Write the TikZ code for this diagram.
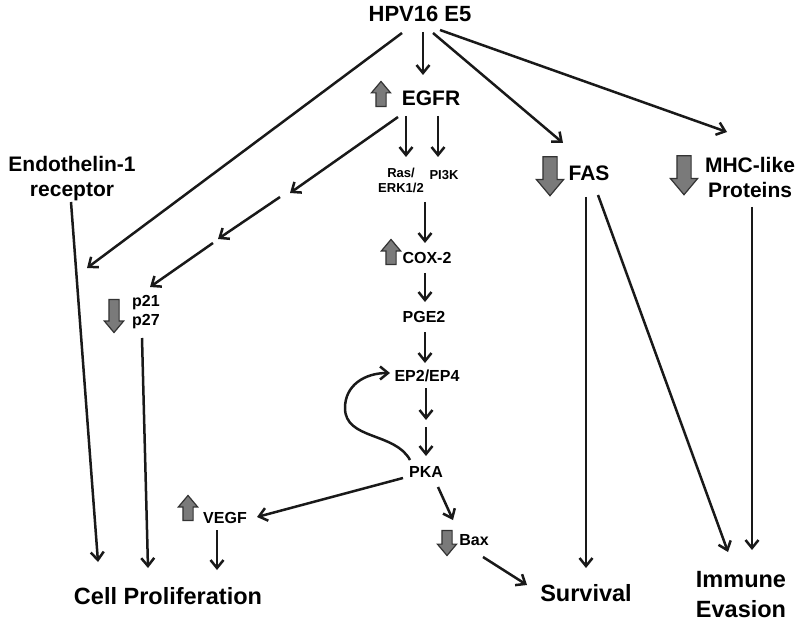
\documentclass[tikz,border=0pt]{standalone}
\usepackage{fontspec}
\setmainfont{Liberation Sans}
\usetikzlibrary{arrows.meta,calc,shapes.arrows}

\begin{document}
\begin{tikzpicture}
[
x=1pt, y=-1pt,
text-big/.style={font=\bfseries\fontsize{22}{26}\selectfont, inner sep=0pt},
text-mid/.style={font=\bfseries\fontsize{21}{25}\selectfont, inner sep=0pt, align=center},
text-out/.style={font=\bfseries\fontsize{23.5}{30}\selectfont, inner sep=0pt, align=center},
text-small/.style={font=\bfseries\fontsize{16}{19}\selectfont, inner sep=0pt, align=center},
text-tiny/.style={font=\bfseries\fontsize{13}{15}\selectfont, inner sep=0pt, align=center},
mark-a/.style={single arrow, draw=black!80, fill=black!52, line width=1.2pt, inner sep=4.5pt,
  single arrow head extend=4.5pt, single arrow head indent=0pt, single arrow tip angle=80,
  minimum width=18pt, minimum height=25pt},
up-a/.style={mark-a, shape border rotate=90},
down-a/.style={mark-a, shape border rotate=270},
down-b/.style={down-a, inner sep=6.5pt, minimum width=26pt, minimum height=39pt, single arrow head extend=6.5pt},
link-a/.style={line width=2.5pt, black!90, -{Straight Barb[length=8pt,width=13pt]}}
]
\useasboundingbox (0,0) rectangle (800,628);

% labels
\node (hpv)    [text-big  ] at (420,14)  {HPV16 E5};
\node (egfr)   [text-mid  ] at (431,98)  {EGFR};
\node (edn)    [text-mid  ] at (72,179)  {Endothelin-1\\receptor};
\node (ras)    [text-tiny ] at (401,180) {Ras/\\ERK1/2};
\node (pi3k)   [text-tiny ] at (444,175) {PI3K};
\node (fas)    [text-mid  ] at (589,173) {FAS};
\node (mhc)    [text-mid  ] at (750,177) {MHC-like\\Proteins};
\node (p21)    [text-small] at (146,312) {p21\\p27};
\node (cox)    [text-small] at (427,258) {COX-2};
\node (pge)    [text-small] at (424,317) {PGE2};
\node (ep)     [text-small] at (427,376) {EP2/EP4};
\node (pka)    [text-small] at (426,472) {PKA};
\node (vegf)   [text-small] at (225,518) {VEGF};
\node (bax)    [text-small] at (474,540) {Bax};
\node (cell)   [text-out  ] at (168,596) {Cell Proliferation};
\node (surv)   [text-out  ] at (586,593) {Survival};
\node (imm)    [text-out  ] at (741,595) {Immune\\Evasion};

% up / down marks
\node (egfr-up) [up-a  ] at (381,97)  {};
\node (cox-up)  [up-a  ] at (391,255) {};
\node (vegf-up) [up-a  ] at (188,511) {};
\node (p21-dn)  [down-a, minimum height=33pt] at (114,313) {};
\node (bax-dn)  [down-a] at (447,540) {};
\node (fas-dn)  [down-b] at (550,172) {};
\node (mhc-dn)  [down-b] at (684,171) {};

% free ends
\coordinate (tip-l)  at (87,268);
\coordinate (hop-1a) at (290,193);
\coordinate (hop-1b) at (280,197);
\coordinate (hop-2a) at (218,239);
\coordinate (hop-2b) at (213,243);
\coordinate (hop-3a) at (426,420);
\coordinate (hop-3b) at (426,427);

% links
\draw [link-a] ($(hpv)+(-18,19)$) -- (tip-l);
\draw [link-a] ($(hpv)+(3,18)$)   -- ($(egfr)+(-8,-23)$);
\draw [link-a] ($(hpv)+(13,19)$)  -- ($(fas)+(-26,-30)$);
\draw [link-a] ($(hpv)+(20,16)$)  -- ($(mhc)+(-23,-45)$);
\draw [link-a] ($(egfr)+(-25,18)$) -- ($(ras)+(5,-23)$);
\draw [link-a] ($(egfr)+(7,18)$)   -- ($(pi3k)+(-6,-18)$);
\draw [link-a] ($(egfr)+(-33,19)$) -- (hop-1a);
\draw [link-a] (hop-1b) -- (hop-2a);
\draw [link-a] (hop-2b) -- ($(p21)+(4,-25)$);
\draw [link-a] ($(edn)+(-1,23)$)  -- ($(cell)+(-70,-34)$);
\draw [link-a] ($(p21)+(-4,26)$)  -- ($(cell)+(-20,-28)$);
\draw [link-a] ($(vegf)+(-8,12)$) -- ($(cell)+(49,-26)$);
\draw [link-a] ($(ras)+(24,22)$)  -- ($(cox)+(-2,-15)$);
\draw [link-a] ($(cox)+(-2,15)$)  -- ($(pge)+(1,-15)$);
\draw [link-a] ($(pge)+(1,15)$)   -- ($(ep)+(-2,-13)$);
\draw [link-a] ($(ep)+(-1,12)$)   -- (hop-3a);
\draw [link-a] (hop-3b) -- ($(pka)+(0,-16)$);
\draw [link-a] ($(pka)+(-16,-12)$) .. controls (395,432) and (345,440) .. (345,408)
  .. controls (345,385) and (365,373) .. ($(ep)+(-37,-3)$);
\draw [link-a] ($(pka)+(-23,6)$)  -- ($(vegf)+(32,-1)$);
\draw [link-a] ($(pka)+(12,15)$)  -- ($(bax)+(-21,-20)$);
\draw [link-a] ($(bax)+(9,17)$)   -- ($(surv)+(-59,-8)$);
\draw [link-a] ($(fas)+(-3,24)$)  -- ($(surv)+(0,-25)$);
\draw [link-a] ($(fas)+(9,22)$)   -- ($(imm)+(-13,-43)$);
\draw [link-a] ($(mhc)+(2,30)$)   -- ($(imm)+(11,-45)$);
\end{tikzpicture}
\end{document}
